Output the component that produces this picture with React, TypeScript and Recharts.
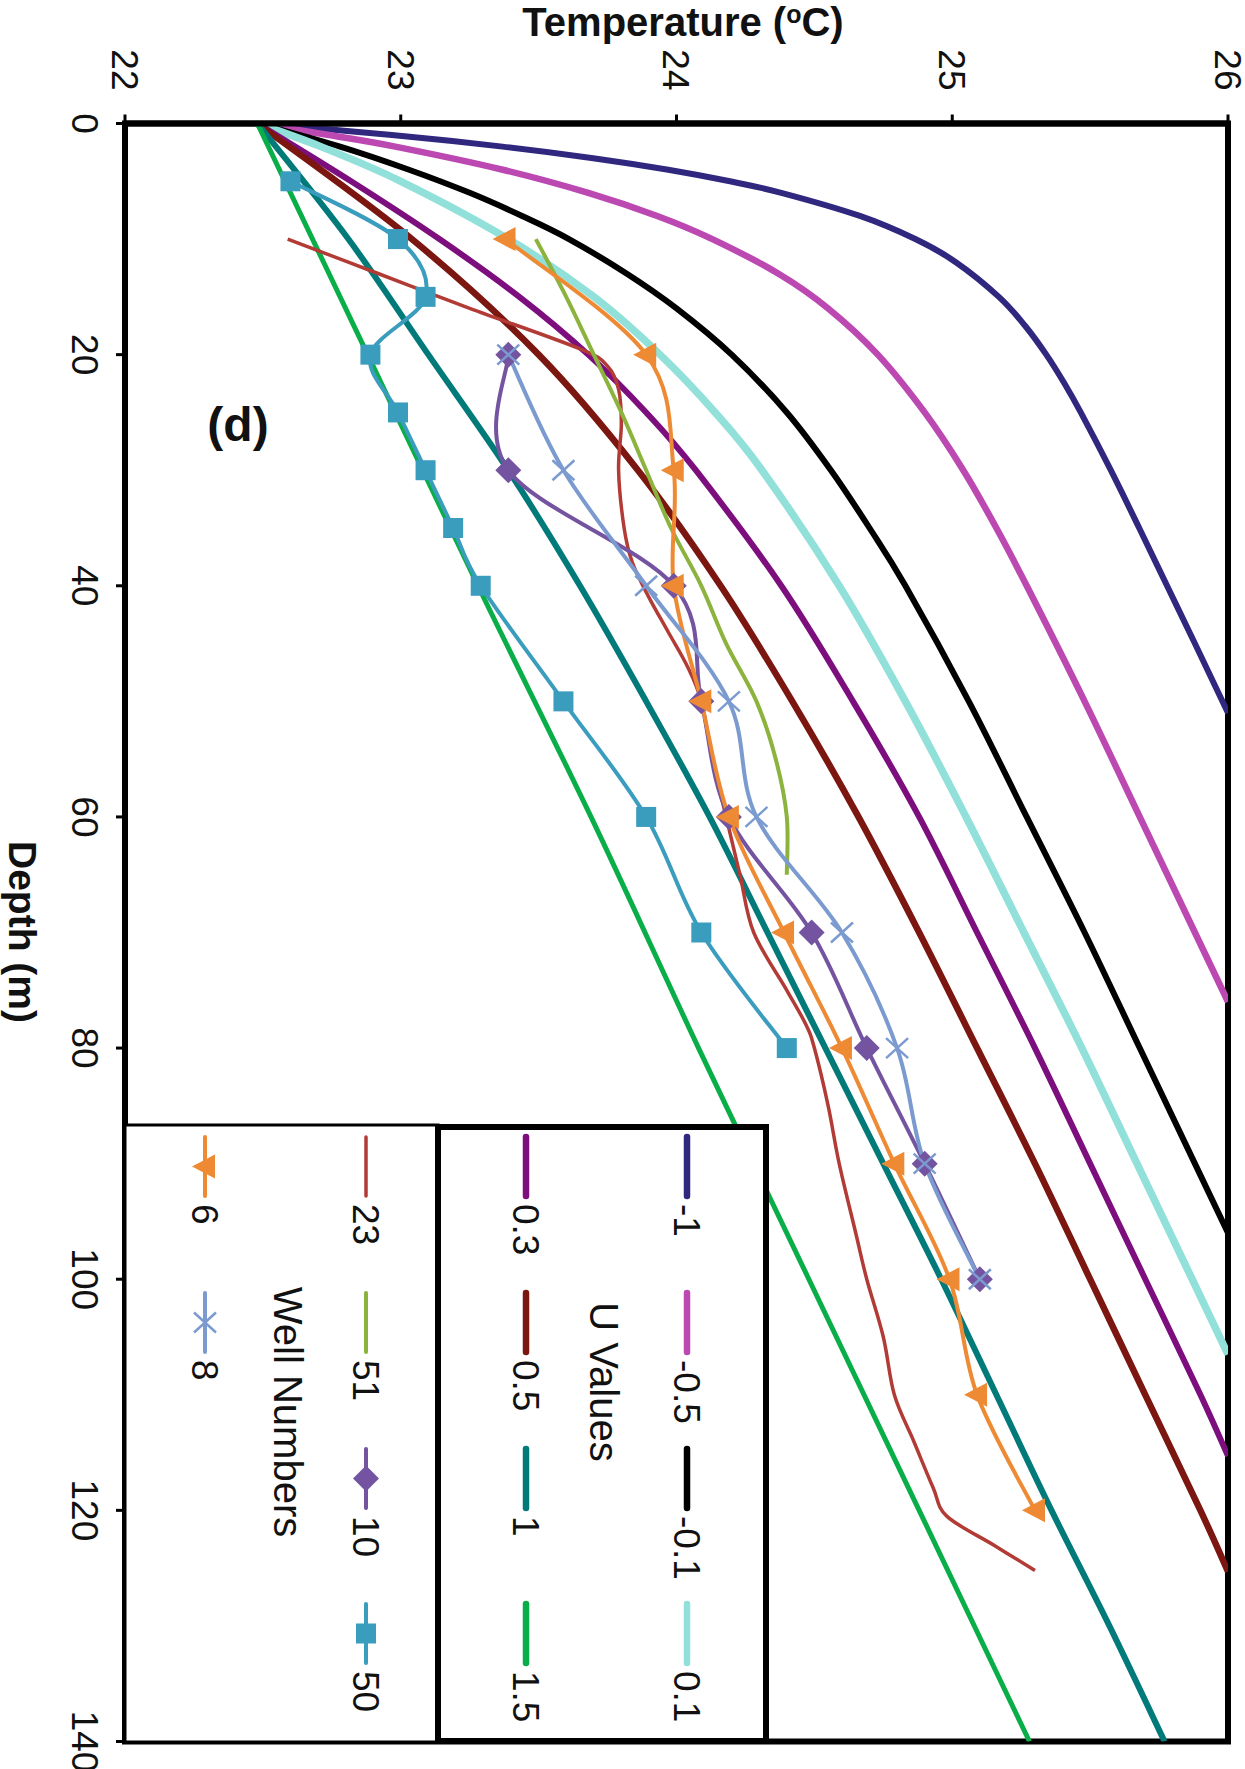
import React from 'react';
import { ComposedChart, Line, XAxis, YAxis, ReferenceArea } from 'recharts';

type Pt = [number, number]; // [depth m, temperature °C]

const DEPTH_TICKS = [0, 20, 40, 60, 80, 100, 120, 140];
const TEMP_TICKS = [22, 23, 24, 25, 26];

// Model curves (U values)
const U_NEG_1: Pt[] = [[0, 22.48], [1, 22.968], [2, 23.369], [3, 23.698], [4, 23.97], [5, 24.194], [6, 24.38], [8, 24.665], [10, 24.866], [12, 25.013], [15, 25.169], [17.5, 25.264], [20, 25.341], [22.5, 25.407], [25, 25.466], [30, 25.575], [35, 25.678], [40, 25.779], [45, 25.88], [51, 26.0]];
const U_NEG_05: Pt[] = [[0, 22.48], [1, 22.74], [2, 22.98], [4, 23.37], [6, 23.68], [8, 23.93], [10, 24.13], [13, 24.37], [16, 24.55], [20, 24.73], [25, 24.9], [30, 25.04], [35, 25.16], [40, 25.27], [50, 25.48], [60, 25.68], [70, 25.88], [76, 26.0]];
const U_NEG_01: Pt[] = [[0, 22.48], [2, 22.78], [4, 23.03], [6, 23.25], [8, 23.44], [10, 23.61], [13, 23.82], [16, 24.0], [20, 24.2], [25, 24.4], [30, 24.56], [35, 24.7], [40, 24.83], [50, 25.06], [60, 25.27], [70, 25.48], [80, 25.68], [90, 25.88], [96, 26.0]];
const U_POS_01: Pt[] = [[0, 22.48], [2, 22.71], [5, 23.0], [10, 23.39], [15, 23.7], [20, 23.94], [25, 24.14], [30, 24.31], [40, 24.59], [50, 24.83], [60, 25.05], [70, 25.26], [80, 25.47], [90, 25.67], [100, 25.87], [106.5, 26.0]];
const U_POS_03: Pt[] = [[0, 22.48], [5, 22.82], [10, 23.14], [15, 23.43], [20, 23.68], [25, 23.89], [30, 24.07], [40, 24.38], [50, 24.64], [60, 24.88], [70, 25.09], [80, 25.3], [90, 25.5], [100, 25.7], [110, 25.9], [115.3, 26.0]];
const U_POS_05: Pt[] = [[0, 22.48], [10, 23.04], [20, 23.5], [30, 23.86], [40, 24.16], [50, 24.42], [60, 24.66], [70, 24.88], [80, 25.09], [90, 25.3], [100, 25.5], [110, 25.7], [120, 25.9], [125.3, 26.0]];
const U_POS_1: Pt[] = [[0, 22.48], [10, 22.81], [20, 23.1], [30, 23.39], [40, 23.65], [50, 23.89], [60, 24.12], [70, 24.33], [80, 24.54], [90, 24.75], [100, 24.96], [110, 25.16], [120, 25.36], [130, 25.57], [140, 25.77]];
const U_POS_15: Pt[] = [[0, 22.48], [20, 22.88], [40, 23.28], [60, 23.69], [80, 24.08], [100, 24.48], [120, 24.88], [140, 25.28]];

// Measured wells
const WELL_23: Pt[] = [[10, 22.59], [13, 22.92], [16, 23.25], [19.5, 23.65], [21, 23.75], [23, 23.79], [26, 23.8], [30, 23.79], [35, 23.81], [38, 23.84], [41, 23.9], [44, 23.97], [47, 24.04], [50, 24.09], [55, 24.13], [60, 24.18], [65, 24.23], [70, 24.28], [75, 24.4], [78, 24.47], [80, 24.5], [85, 24.55], [90, 24.59], [96, 24.65], [100, 24.69], [105, 24.75], [110, 24.79], [114, 24.86], [118, 24.93], [120.5, 24.98], [123, 25.15], [125.2, 25.3]];
const WELL_51: Pt[] = [[10, 23.49], [15, 23.6], [20, 23.7], [25, 23.8], [30, 23.89], [35, 23.98], [40, 24.09], [45, 24.18], [50, 24.29], [55, 24.36], [60, 24.4], [65, 24.4]];
const WELL_10: Pt[] = [[20, 23.39], [30, 23.39], [40, 23.99], [50, 24.09], [60, 24.19], [70, 24.49], [80, 24.69], [90, 24.9], [100, 25.1]];
const WELL_50: Pt[] = [[5, 22.6], [10, 22.99], [15, 23.09], [20, 22.89], [25, 22.99], [30, 23.09], [35, 23.19], [40, 23.29], [50, 23.59], [60, 23.89], [70, 24.09], [80, 24.4]];
const WELL_6: Pt[] = [[10, 23.38], [20, 23.89], [30, 23.99], [40, 23.99], [50, 24.09], [60, 24.19], [70, 24.39], [80, 24.6], [90, 24.79], [100, 24.99], [110, 25.09], [120, 25.3]];
const WELL_8: Pt[] = [[20, 23.39], [30, 23.59], [40, 23.89], [50, 24.19], [60, 24.29], [70, 24.6], [80, 24.8], [90, 24.9], [100, 25.1]];

const FONT = "'Liberation Sans', Arial, Helvetica, sans-serif";

const C = {
  n1: '#30277F', n05: '#BC48B2', n01: '#000000', p01: '#91E0D9',
  p03: '#7D0E7E', p05: '#7B1610', p1: '#037A7A', p15: '#0AAE48',
  w23: '#B23B36', w51: '#8BB33E', w10: '#7454A0', w50: '#3B9DBE', w6: '#EF8A34', w8: '#7B9BD0',
};

type Marker = 'none' | 'square' | 'diamond' | 'tri' | 'x';

const MODELS = [
  { key: 'u-1', label: '-1', pts: U_NEG_1, color: C.n1, w: 6 },
  { key: 'u-05', label: '-0.5', pts: U_NEG_05, color: C.n05, w: 6.5 },
  { key: 'u-01', label: '-0.1', pts: U_NEG_01, color: C.n01, w: 6 },
  { key: 'u01', label: '0.1', pts: U_POS_01, color: C.p01, w: 7.5 },
  { key: 'u03', label: '0.3', pts: U_POS_03, color: C.p03, w: 6 },
  { key: 'u05', label: '0.5', pts: U_POS_05, color: C.p05, w: 6.5 },
  { key: 'u1', label: '1', pts: U_POS_1, color: C.p1, w: 6 },
  { key: 'u15', label: '1.5', pts: U_POS_15, color: C.p15, w: 5 },
];

const WELLS: { key: string; label: string; pts: Pt[]; color: string; w: number; marker: Marker }[] = [
  { key: 'w23', label: '23', pts: WELL_23, color: C.w23, w: 3.5, marker: 'none' },
  { key: 'w51', label: '51', pts: WELL_51, color: C.w51, w: 4, marker: 'none' },
  { key: 'w10', label: '10', pts: WELL_10, color: C.w10, w: 4, marker: 'diamond' },
  { key: 'w50', label: '50', pts: WELL_50, color: C.w50, w: 4, marker: 'square' },
  { key: 'w6', label: '6', pts: WELL_6, color: C.w6, w: 4, marker: 'tri' },
  { key: 'w8', label: '8', pts: WELL_8, color: C.w8, w: 4, marker: 'x' },
];

const rows = (pts: Pt[]) => pts.map(([d, t]) => ({ d, t }));

// Excel-like smoothed line (Catmull-Rom as cubic Bezier)
function smoothCurve(context: any) {
  let pts: number[][] = [];
  return {
    areaStart() {},
    areaEnd() {},
    lineStart() { pts = []; },
    point(x: number, y: number) { pts.push([+x, +y]); },
    lineEnd() {
      const n = pts.length;
      if (!n) return;
      context.moveTo(pts[0][0], pts[0][1]);
      for (let i = 0; i < n - 1; i++) {
        const p0 = pts[Math.max(i - 1, 0)];
        const p1 = pts[i];
        const p2 = pts[i + 1];
        const p3 = pts[Math.min(i + 2, n - 1)];
        context.bezierCurveTo(
          p1[0] + (p2[0] - p0[0]) / 6, p1[1] + (p2[1] - p0[1]) / 6,
          p2[0] - (p3[0] - p1[0]) / 6, p2[1] - (p3[1] - p1[1]) / 6,
          p2[0], p2[1]
        );
      }
    },
  };
}

function MarkerShape({ kind, cx, cy, color }: { kind: Marker; cx: number; cy: number; color: string }) {
  if (kind === 'square') return <rect x={cx - 10} y={cy - 10} width={20} height={20} fill={color} />;
  if (kind === 'diamond') return <polygon points={`${cx},${cy - 13} ${cx + 13},${cy} ${cx},${cy + 13} ${cx - 13},${cy}`} fill={color} />;
  if (kind === 'tri') return <polygon points={`${cx - 12},${cy - 10} ${cx + 12},${cy - 10} ${cx},${cy + 13}`} fill={color} />;
  if (kind === 'x')
    return (
      <g stroke={color} strokeWidth={2.5}>
        <line x1={cx - 10} y1={cy - 11} x2={cx + 10} y2={cy + 11} />
        <line x1={cx - 10} y1={cy + 11} x2={cx + 10} y2={cy - 11} />
      </g>
    );
  return null;
}

const makeDot = (kind: Marker, color: string, name: string) => (p: any) => {
  if (p.cx == null || p.cy == null) return <g key={`${name}-${p.index}`} />;
  return (
    <g key={`${name}-${p.index}`}>
      <MarkerShape kind={kind} cx={p.cx} cy={p.cy} color={color} />
    </g>
  );
};

// original (un-rotated) chart geometry
const W0 = 1769;
const H0 = 1245;

const LEG_X = [1137, 1293, 1449, 1604];
const LEG_LEN = 59;

function LegendItem({ x, y, color, w, label, marker }: { x: number; y: number; color: string; w: number; label: string; marker?: Marker }) {
  return (
    <g>
      <line x1={x} y1={y} x2={x + LEG_LEN} y2={y} stroke={color} strokeWidth={w} strokeLinecap="round" />
      {marker && marker !== 'none' ? <MarkerShape kind={marker} cx={x + LEG_LEN / 2} cy={y} color={color} /> : null}
      <text x={x + LEG_LEN + 8} y={y + 13} fontSize={37} fontFamily={FONT} fill="#111">{label}</text>
    </g>
  );
}

function Overlay() {
  const rowA = MODELS.slice(0, 4);
  const rowB = MODELS.slice(4, 8);
  const rowC = WELLS.slice(0, 4);
  const rowD = WELLS.slice(4, 6);
  return (
    <svg width={W0} height={H0} style={{ position: 'absolute', left: 0, top: 0, overflow: 'visible' }}>
      <text transform="translate(36,562) rotate(-90)" textAnchor="middle" fontFamily={FONT} fontWeight="bold" fontSize={40} fill="#111">
        Temperature (<tspan fontSize={25} dy={-13}>o</tspan><tspan dy={13}>C)</tspan>
      </text>
      <text x={932} y={1236} textAnchor="middle" fontFamily={FONT} fontWeight="bold" fontSize={39} fill="#111">Depth (m)</text>
      <text transform="translate(441,1007) rotate(-90)" textAnchor="middle" fontFamily={FONT} fontWeight="bold" fontSize={48} fill="#111">(d)</text>

      <rect x={1125} y={807} width={617} height={313} fill="#fff" stroke="#000" strokeWidth={3} />
      <rect x={1127} y={479} width={614} height={328} fill="#fff" stroke="#000" strokeWidth={6} />

      {rowA.map((m, i) => <LegendItem key={m.key} x={LEG_X[i]} y={558} color={m.color} w={6.5} label={m.label} />)}
      <text x={1382} y={655} textAnchor="middle" fontFamily={FONT} fontSize={40} fill="#111">U Values</text>
      {rowB.map((m, i) => <LegendItem key={m.key} x={LEG_X[i]} y={719} color={m.color} w={6.5} label={m.label} />)}

      {rowC.map((m, i) => <LegendItem key={m.key} x={LEG_X[i]} y={879} color={m.color} w={m.w} label={m.label} marker={m.marker} />)}
      <text x={1412} y={971} textAnchor="middle" fontFamily={FONT} fontSize={40} fill="#111">Well Numbers</text>
      {rowD.map((m, i) => <LegendItem key={m.key} x={LEG_X[i]} y={1040} color={m.color} w={m.w} label={m.label} marker={m.marker} />)}
    </svg>
  );
}

function Chart() {
  return (
    <ComposedChart width={W0} height={H0} margin={{ top: 17, right: 27.5, left: 0, bottom: 0 }}>
      <XAxis
        type="number"
        dataKey="d"
        domain={[0, 140]}
        ticks={DEPTH_TICKS}
        interval={0}
        allowDataOverflow
        height={125}
        tickSize={9}
        tickMargin={18}
        axisLine={{ stroke: '#000', strokeWidth: 6 }}
        tickLine={{ stroke: '#000', strokeWidth: 3 }}
        tick={{ fill: '#111', fontSize: 37, fontFamily: FONT }}
      />
      <YAxis
        type="number"
        domain={[22, 26]}
        ticks={TEMP_TICKS}
        interval={0}
        allowDataOverflow
        width={123.5}
        tickSize={9}
        tickMargin={24}
        axisLine={{ stroke: '#000', strokeWidth: 6 }}
        tickLine={{ stroke: '#000', strokeWidth: 3 }}
        tick={{ fill: '#111', fontSize: 37, fontFamily: FONT }}
      />
      {MODELS.map((m) => (
        <Line
          key={m.key}
          data={rows(m.pts)}
          dataKey="t"
          type={smoothCurve as any}
          stroke={m.color}
          strokeWidth={m.w}
          dot={false}
          activeDot={false}
          isAnimationActive={false}
          legendType="none"
        />
      ))}
      {WELLS.map((m) => (
        <Line
          key={m.key}
          data={rows(m.pts)}
          dataKey="t"
          type={smoothCurve as any}
          stroke={m.color}
          strokeWidth={m.w}
          dot={m.marker === 'none' ? false : makeDot(m.marker, m.color, m.key)}
          activeDot={false}
          isAnimationActive={false}
          legendType="none"
        />
      ))}
      <ReferenceArea x1={0} x2={140} y1={22} y2={26} fill="none" fillOpacity={0} stroke="#000" strokeWidth={6} ifOverflow="visible" />
    </ComposedChart>
  );
}

export default function App() {
  return (
    <div style={{ position: 'absolute', left: 0, top: 0, width: 1245, height: 1769, overflow: 'hidden', background: '#fff' }}>
      <div
        style={{
          position: 'absolute',
          left: 0,
          top: 0,
          width: W0,
          height: H0,
          transformOrigin: '0 0',
          transform: 'translate(1245px, 0px) rotate(90deg)',
        }}
      >
        <Chart />
        <Overlay />
      </div>
    </div>
  );
}
